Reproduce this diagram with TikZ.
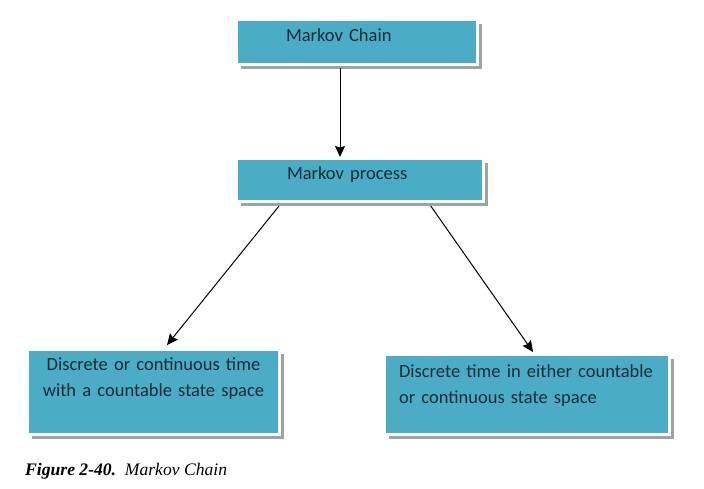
\documentclass[tikz,border=0pt]{standalone}
\usepackage{fontspec}
\setmainfont{Liberation Serif}
\newfontfamily\boxfont{Carlito}
\newcommand\boxtextstyle{\boxfont\fontsize{18.5}{26}\selectfont\hyphenpenalty=10000\relax}
\usetikzlibrary{calc,arrows.meta,shadows}
\definecolor{boxteal}{HTML}{4BACC6}
\definecolor{boxtext}{HTML}{1A2B33}
\definecolor{shadowgray}{HTML}{9FA3A5}
\tikzset{
  mbox/.style={rectangle, fill=boxteal, draw=white, line width=3pt,
    drop shadow={shadow xshift=4.5pt, shadow yshift=-4.5pt, fill=shadowgray, opacity=1},
    font=\boxtextstyle, text=boxtext, inner sep=0pt},
  conn/.style={-{Stealth[length=11pt,width=10pt,inset=1.5pt]}, line width=1pt, black},
}
\begin{document}
\begin{tikzpicture}[x=1pt,y=-1pt]
\useasboundingbox[fill=white] (0,0) rectangle (704,489);
\node[mbox, minimum width=241pt, minimum height=45pt, text width=142pt, align=left,
  text height=7pt, text depth=7pt] (chain) at (357,42) {Markov Chain};
\node[mbox, minimum width=247pt, minimum height=43pt, text width=146pt, align=left,
  text height=7pt, text depth=7pt] (process) at (360,180) {Markov process};
\node[mbox, minimum width=252pt, minimum height=85pt, text width=240pt, align=center,
  text height=5pt, text depth=48pt] (cont) at (153.5,392) {Discrete or continuous time\\with a countable state space};
\node[mbox, minimum width=285pt, minimum height=80pt, text width=256pt, align=left,
  text height=5pt, text depth=40pt] (disc) at (527,394.5) {Discrete time in either countable\\or continuous state space};
\coordinate (pl) at ($(process.south west)!0.176!(process.south east)+(0,3)$);
\coordinate (pr) at ($(process.south west)!0.783!(process.south east)+(0,3)$);
\coordinate (cl) at ($(cont.north west)!0.553!(cont.north east)+(0,-3)$);
\coordinate (dr) at ($(disc.north west)!0.521!(disc.north east)+(0,-1)$);
\draw[conn] ($(chain.south)+(-17,2)$) coordinate (c0) -- (c0 |- process.north);
\draw[conn] (pl) -- (cl);
\draw[conn] (pr) -- (dr);
\node[anchor=base west, inner sep=0pt, font=\fontsize{17.6}{20}\selectfont] (cap) at (25,475)
  {\textbf{\textit{Figure 2-40.}}\ \ \textit{Markov Chain}};
\end{tikzpicture}
\end{document}
